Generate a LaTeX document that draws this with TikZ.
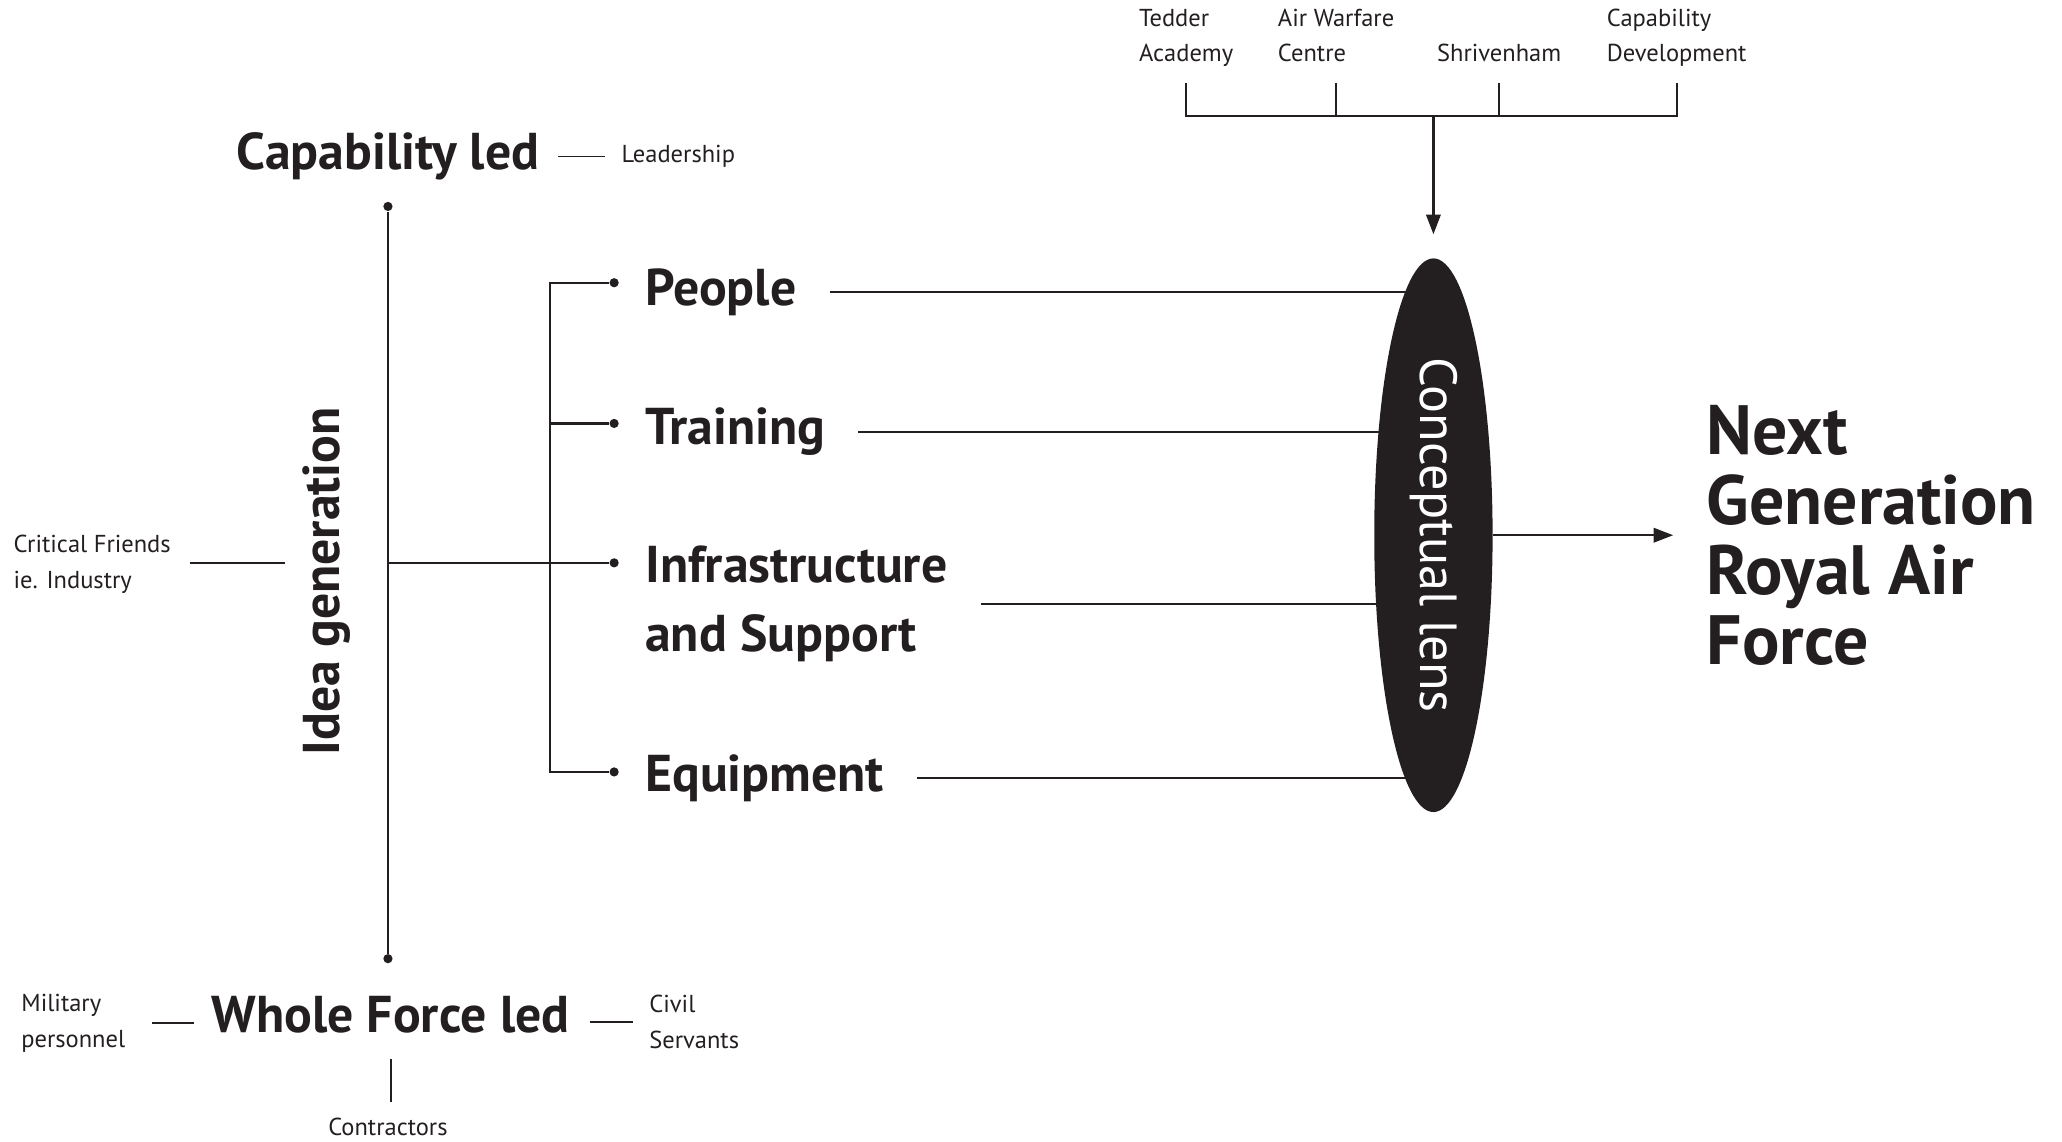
\documentclass[tikz,border=0pt]{standalone}
\usepackage{fontspec}
\setmainfont{PT Sans}
\usepackage{tikz}
\usetikzlibrary{positioning,shapes.geometric,arrows.meta,backgrounds}

\definecolor{ink}{HTML}{231F20}

\tikzset{
  head/.style={font=\fontsize{22.4}{27}\selectfont\bfseries, text=ink, inner sep=0pt},
  item/.style={font=\fontsize{22.4}{30.2}\selectfont\bfseries, text=ink, align=left, inner sep=0pt},
  minor/.style={font=\fontsize{10.6}{15.4}\selectfont, text=ink, align=left, inner sep=0pt},
  goal/.style={font=\fontsize{30.2}{30.2}\selectfont\bfseries, text=ink, align=left, inner sep=0pt},
  dot/.style={circle, fill=ink, inner sep=0pt, minimum size=0.14cm},
  lens/.style={ellipse, fill=ink, minimum width=1.8cm, minimum height=8.42cm, inner sep=0pt},
  link/.style={draw=ink, line width=1pt},
  stub/.style={draw=ink, line width=0.8pt},
  arr/.style={link, -{Triangle[length=0.3cm,width=0.22cm]}},
}

\begin{document}
\begin{tikzpicture}
\useasboundingbox (0,0) rectangle (31.36,-17.36);

  % Define nodes
\node[head] (cap) at (5.90,-2.38) {Capability led};
\node[minor, right=1.24cm of cap] (lead) {Leadership};
\node[dot] (ctop) at (5.90,-3.14) {};
\node[dot] (cbot) at (5.90,-14.58) {};
\node[head, rotate=90] (idea) at (4.96,-8.84) {Idea generation};
\node[minor, anchor=west] (crit) at (0.20,-8.58) {Critical Friends\\ie. Industry};
\coordinate (hub) at (5.90,-8.56);
\coordinate (critend) at (4.34,-8.56);

\node[dot] (dp) at (9.34,-4.30) {};
\node[dot] (dt) at (9.34,-6.44) {};
\node[dot] (di) at (9.34,-8.56) {};
\node[dot] (de) at (9.34,-11.74) {};
\coordinate (bt) at (8.36,-4.30);
\coordinate (bb) at (8.36,-11.74);

\node[item, right=0.39cm of dp, yshift=-0.14cm] (people) {People};
\node[item, right=0.39cm of dt, yshift=-0.13cm] (training) {Training};
\node[item, anchor=north west] (infra) at ([xshift=0.39cm,yshift=0.27cm]di.east) {Infrastructure\\and Support};
\node[item, right=0.39cm of de, yshift=-0.09cm] (equip) {Equipment};

\node[lens] (lens) at (21.80,-8.14) {};
\node[font=\fontsize{22.6}{27}\selectfont, text=white, inner sep=0pt, rotate=-90] (lenstext) at (lens) {Conceptual lens};
\node[goal, right=3.24cm of lens] (gen) {Next\\Generation\\Royal Air\\Force};

\node[minor, anchor=south] (ted) at (18.04,-1.11) {Tedder\\Academy\strut};
\node[minor, anchor=south] (awc) at (20.32,-1.11) {Air Warfare\\Centre\strut};
\node[minor, anchor=south] (shr) at (22.80,-1.11) {Shrivenham\strut};
\node[minor, anchor=south] (cdev) at (25.50,-1.11) {Capability\\Development\strut};
\coordinate (bar) at (lens |- 0,-1.76);

\node[head] (whole) at (5.94,-15.44) {Whole Force led};
\node[minor, left=1.30cm of whole, yshift=-0.12cm] (mil) {Military\\personnel};
\node[minor, right=1.20cm of whole, yshift=-0.10cm] (civ) {Civil\\Servants};
\node[minor] (con) at (5.90,-17.14) {Contractors};

  % Connect the nodes
\draw[stub] ([xshift=0.28cm]cap.east) -- ([xshift=-0.24cm]lead.west);
\draw[link] (ctop) -- (cbot);
\draw[stub] ([xshift=0.28cm]crit.east |- hub) -- (critend);
\draw[link] (hub) -- (di);
\draw[link] (dp) -- (bt) -- (bb) -- (de);
\draw[link] (dt) -- (dt -| bt);

\begin{scope}[on background layer]
\draw[link, shorten <=0.5cm] (people) -- (people -| lens);
\draw[link, shorten <=0.5cm] (training) -- (training -| lens);
\draw[link, shorten <=0.5cm] (infra) -- (infra -| lens);
\draw[link, shorten <=0.5cm] (equip) -- (equip -| lens);
\end{scope}

\draw[arr, shorten >=0.5cm] (lens) -- (gen);

  % Feeders into the lens
\draw[stub] ([yshift=-0.15cm]ted.south) -- (ted.south |- bar) -- (cdev.south |- bar) -- ([yshift=-0.15cm]cdev.south);
\draw[stub] ([yshift=-0.15cm]awc.south) -- (awc.south |- bar);
\draw[stub] ([yshift=-0.15cm]shr.south) -- (shr.south |- bar);
\draw[arr, shorten >=0.36cm] (bar) -- (lens);

\draw[stub] ([xshift=-0.26cm]whole.west |- mil.east) -- ([xshift=0.40cm]mil.east);
\draw[stub] ([xshift=0.30cm]whole.east |- civ.west) -- ([xshift=-0.24cm]civ.west);
\draw[stub] ([yshift=-0.38cm]whole.south) -- ([yshift=0.24cm]whole.south |- con.north);
\end{tikzpicture}
\end{document}
